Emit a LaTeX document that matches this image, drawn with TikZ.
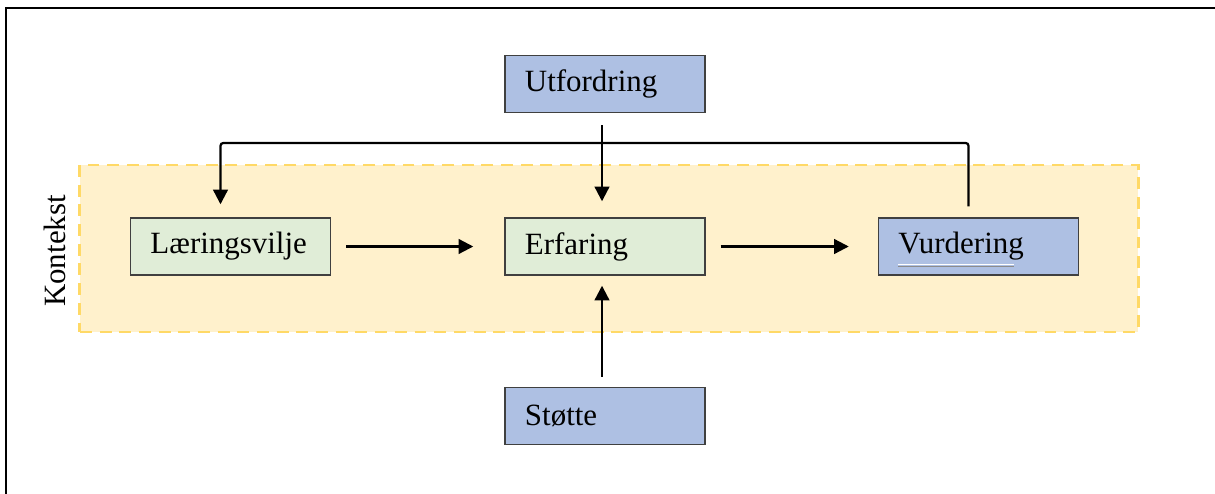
\documentclass[tikz,border=0pt]{standalone}
\usepackage{fontspec}
\setmainfont{Liberation Serif}
\usetikzlibrary{shapes, arrows.meta, positioning}

\definecolor{feltgul}{HTML}{FFF1CC}
\definecolor{kantgul}{HTML}{FFD966}
\definecolor{boksgronn}{HTML}{E0EDD7}
\definecolor{boksblaa}{HTML}{AEC0E3}

\begin{document}
\begin{tikzpicture}[x=0.025cm, y=-0.025cm, every node/.style={font=\fontsize{22}{26}\selectfont}]

    % Define block styles
    \tikzstyle{gronn} = [rectangle, minimum width=5cm, minimum height=1.425cm, text width=4cm, inner xsep=0.5cm, align=left, draw=black!75, line width=1pt, fill=boksgronn]
    \tikzstyle{blaa} = [gronn, fill=boksblaa]
    \tikzstyle{felt} = [rectangle, minimum width=26.45cm, minimum height=4.175cm, inner sep=0pt, draw=kantgul, line width=2pt, dash pattern=on 8.5pt off 5.5pt, fill=feltgul]
    \tikzstyle{arrow} = [line width=1.6pt, ->, >={Triangle[length=10.5pt, width=10.5pt]}]

    \useasboundingbox (0,0) rectangle (1215,493);

    % Outer frame
    \draw [line width=2pt] (6,530) -- (6,8) -- (1240,8);

    % Place nodes
    \node (kontekstfelt) [felt] at (609,248.5) {};
    \node (kontekst) [rotate=90] at (55,251) {Kontekst};
    \node (erfaring) [gronn] at (605,246.5) {Erfaring};
    \node (laering) [gronn, left=4.325cm of erfaring] {Læringsvilje};
    \node (vurdering) [blaa, right=4.3cm of erfaring] {Vurdering};
    \node (utfordring) [blaa, above=2.6cm of erfaring] {Utfordring};
    \node (stotte) [blaa, below=2.775cm of erfaring] {Støtte};

    % Underline under Vurdering
    \draw [white, line width=1pt] ([shift={(0.5cm,0.28cm)}]vurdering.south west) -- ++(2.9cm,0);
    \draw [black!45, line width=0.5pt] ([shift={(0.5cm,0.24cm)}]vurdering.south west) -- ++(2.9cm,0);

    % Draw arrows
    \draw [arrow, shorten <=0.375cm, shorten >=0.775cm] (laering) -- (erfaring);
    \draw [arrow, shorten <=0.375cm, shorten >=0.725cm] (erfaring) -- (vurdering);
    \draw [arrow, shorten <=0.3cm, shorten >=0.4cm] ([xshift=-0.075cm]utfordring.south) -- ([xshift=-0.075cm]erfaring.north);
    \draw [arrow, shorten <=0.25cm, shorten >=0.25cm] ([xshift=-0.075cm]stotte.north) -- ([xshift=-0.075cm]erfaring.south);
    \coordinate (tilbake) at (605,143);
    \draw [arrow, rounded corners=2pt, shorten <=0.275cm, shorten >=0.325cm] ([xshift=-0.25cm]vurdering.north) |- (tilbake) -| ([xshift=-0.25cm]laering.north);

\end{tikzpicture}
\end{document}
